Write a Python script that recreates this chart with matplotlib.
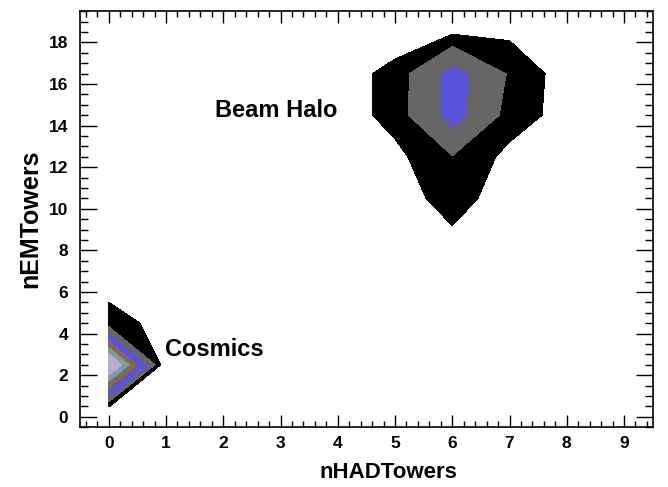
import numpy as np
import matplotlib
matplotlib.use("Agg")
import matplotlib.pyplot as plt
from matplotlib.ticker import MultipleLocator

# ---- data -------------------------------------------------------------
x_centers = [0, 1, 2, 3, 4, 5, 6, 7, 8, 9]                 # nHADTowers bin centres
y_centers = [0.5, 2.5, 4.5, 6.5, 8.5, 10.5, 12.5, 14.5, 16.5, 18.5]  # nEMTowers bin centres
# histogram contents (rows = y_centers, columns = x_centers)
counts = [
    [1.02, 0.00, 0, 0, 0.00, 0.00, 0.00, 0.00, 0.00, 0],
    [10.1, 0.10, 0, 0, 0.00, 0.00, 0.00, 0.00, 0.00, 0],
    [1.25, 0.79, 0, 0, 0.00, 0.00, 0.00, 0.00, 0.00, 0],
    [0.75, 0.00, 0, 0, 0.00, 0.00, 0.00, 0.00, 0.00, 0],
    [0.00, 0.00, 0, 0, 0.00, 0.20, 0.74, 0.20, 0.00, 0],
    [0.00, 0.00, 0, 0, 0.00, 0.41, 1.50, 0.39, 0.00, 0],
    [0.00, 0.00, 0, 0, 0.30, 0.727, 1.95, 0.70, 0.30, 0],
    [0.00, 0.00, 0, 0, 0.42, 1.37, 4.07, 1.55, 0.585, 0],
    [0.00, 0.00, 0, 0, 0.58, 1.27, 4.17, 1.87, 0.47, 0],
    [0.00, 0.00, 0, 0, 0.20, 0.50, 0.83, 0.77, 0.20, 0],
]
levels = [1.0, 2.0, 3.54, 5.2, 6.5, 7.8, 100.0]
level_colors = ["#000000", "#666666", "#5954d9", "#87665a", "#7b9c9c", "#b4acd2"]

labels = [("Beam Halo", 1.85, 14.4), ("Cosmics", 0.99, 2.91)]
x_title = "nHADTowers"
y_title = "nEMTowers"

# ---- plot -------------------------------------------------------------
plt.rcParams["font.family"] = ["Liberation Sans", "DejaVu Sans"]
plt.rcParams["font.weight"] = "bold"

fig = plt.figure(figsize=(6.68, 4.87), dpi=100)
ax = fig.add_axes([0.120, 0.123, 0.857, 0.854])

X, Y = np.meshgrid(np.array(x_centers, float), np.array(y_centers, float))
Z = np.array(counts, float)
ax.contourf(X, Y, Z, levels=levels, colors=level_colors)

for txt, tx, ty in labels:
    ax.text(tx, ty, txt, fontsize=17, fontweight="bold", ha="left", va="baseline")

ax.set_xlim(-0.5, 9.5)
ax.set_ylim(-0.5, 19.5)
ax.xaxis.set_major_locator(MultipleLocator(1))
ax.xaxis.set_minor_locator(MultipleLocator(0.2))
ax.yaxis.set_major_locator(MultipleLocator(2))
ax.yaxis.set_minor_locator(MultipleLocator(0.5))

ax.tick_params(axis="both", which="both", direction="in", top=True, right=True,
               width=1.0, colors="black")
ax.tick_params(axis="x", which="major", length=8.6, pad=6.5, labelsize=12.5)
ax.tick_params(axis="x", which="minor", length=4.3)
ax.tick_params(axis="y", which="major", length=12, pad=8.5, labelsize=12.5)
ax.tick_params(axis="y", which="minor", length=6)
for lab in ax.get_xticklabels() + ax.get_yticklabels():
    lab.set_fontweight("bold")
for sp in ax.spines.values():
    sp.set_linewidth(1.2)

ax.set_xlabel(x_title, fontsize=16, fontweight="bold", va="center")
ax.xaxis.set_label_coords(0.539, -0.11)
ax.set_ylabel(y_title, fontsize=18, fontweight="bold", va="center")
ax.yaxis.set_label_coords(-0.087, 0.501)

fig.savefig("out.png", dpi=100)
